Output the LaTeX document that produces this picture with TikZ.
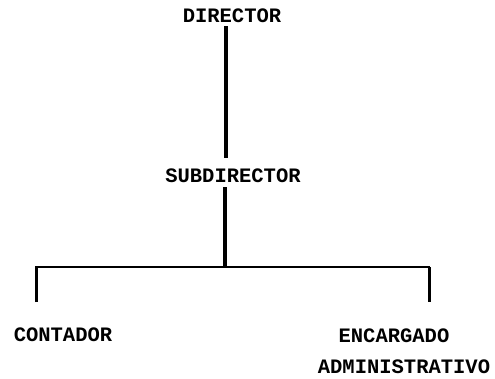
\documentclass[tikz,border=0pt]{standalone}
\usepackage{fontspec}
\setmonofont{Liberation Mono}
\usepackage{tikz}

\tikzset{
  puesto/.style={font=\ttfamily\bfseries\fontsize{20.5}{23}\selectfont, inner sep=2pt},
  tronco/.style={line width=3.4pt},
  rama/.style={line width=2pt, line join=miter}
}

\begin{document}
\begin{tikzpicture}[x=1pt,y=1pt]
\useasboundingbox (0,0) rectangle (495,378);
\node[puesto] (dir) at (232,362) {DIRECTOR};
   \node[puesto] (sub) at (233,202) {SUBDIRECTOR};
   \node[puesto] (cont) at (63,43) {CONTADOR};
   \node[puesto] (enc) at (394,42) {ENCARGADO};
   \node[puesto] (adm) at (404,11) {ADMINISTRATIVO};
   \coordinate (jl) at (36,111);
   \coordinate (jr) at (429,111);
   \coordinate (el) at (36,76);
   \coordinate (er) at (429,76);
   \coordinate (jc) at (225,111);

   \draw[tronco] ([xshift=-6pt,yshift=-1pt]dir.south) -- ([xshift=-7pt,yshift=9pt]sub.north);
   \draw[tronco] ([xshift=-8pt,yshift=-2pt]sub.south) -- (jc);
   \draw[rama] (el) -- (jl) -- (jr) -- (er);
   \draw[line width=3pt] (jl) -- (el);
   \draw[line width=3pt] (jr) -- (er);

   \end{tikzpicture}
\end{document}
